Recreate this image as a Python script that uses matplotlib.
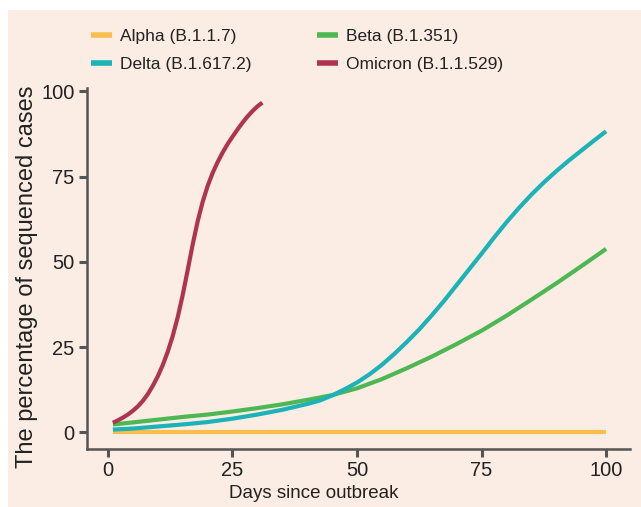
import matplotlib
import matplotlib.pyplot as plt
from matplotlib.patches import Rectangle

matplotlib.use('Agg')

plt.rcParams['font.family'] = ['Liberation Sans', 'DejaVu Sans']

# values
alpha_days = [1, 100]
alpha_pct = [0, 0]

beta_days = [1, 5, 10, 15, 20, 25, 30, 35, 40, 45, 50, 55, 60, 65, 70, 75, 80, 85, 90, 95, 100]
beta_pct = [2.3, 2.9, 3.7, 4.5, 5.2, 6.1, 7.1, 8.2, 9.5, 10.9, 12.9, 15.6, 18.8, 22.2,
            25.9, 29.8, 34.2, 38.9, 43.7, 48.7, 53.8]

delta_days = [1, 5, 10, 15, 20, 25, 30, 35, 40, 42.5, 45, 47.5, 50, 52.5, 55, 57.5, 60,
              62.5, 65, 67.5, 70, 72.5, 75, 77.5, 80, 82.5, 85, 87.5, 90, 92.5, 95, 97.5, 100]
delta_pct = [0.8, 1.1, 1.7, 2.3, 3.0, 4.0, 5.2, 6.6, 8.3, 9.3, 10.8, 12.6, 14.6, 17.0,
             19.8, 23.0, 26.5, 30.2, 34.3, 38.6, 43.2, 47.8, 52.4, 57.1, 61.6, 65.8,
             69.7, 73.3, 76.6, 79.7, 82.6, 85.5, 88.3]

omicron_days = list(range(1, 32))
omicron_pct = [2.8, 3.5, 4.3, 5.2, 6.3, 7.6, 9.2, 11.2, 13.6, 16.4, 19.7, 23.6, 28.2,
               33.7, 40.2, 47.5, 55.0, 61.8, 67.5, 72.2, 76.0, 79.2, 82.0, 84.5, 86.7,
               88.8, 90.8, 92.6, 94.2, 95.6, 96.7]

series = [
    ("Alpha (B.1.1.7)", alpha_days, alpha_pct, "#F9BE4E"),
    ("Beta (B.1.351)", beta_days, beta_pct, "#4DB853"),
    ("Delta (B.1.617.2)", delta_days, delta_pct, "#1BB2B8"),
    ("Omicron (B.1.1.529)", omicron_days, omicron_pct, "#AE3452"),
]

x_ticks = [0, 25, 50, 75, 100]
y_ticks = [0, 25, 50, 75, 100]

bg = "#FBEDE3"
axis_col = "#555555"
text_col = "#222222"

fig = plt.figure(figsize=(6.41, 5.07), dpi=100)
fig.patch.set_facecolor("white")
fig.patches.append(Rectangle((8 / 641, 0), 1, 1 - 10 / 507, transform=fig.transFigure,
                             facecolor=bg, edgecolor="none", zorder=-10))

ax = fig.add_axes([87 / 641, 58 / 507, 543 / 641, 361 / 507])
ax.set_facecolor(bg)

lines = []
for name, xs, ys, col in series:
    ln, = ax.plot(xs, ys, color=col, lw=3, label=name, solid_capstyle="butt")
    lines.append(ln)

ax.set_xlim(-4.2, 104.8)
ax.set_ylim(-4.9, 101)
ax.set_xticks(x_ticks)
ax.set_yticks(y_ticks)

for s in ["top", "right"]:
    ax.spines[s].set_visible(False)
for s in ["left", "bottom"]:
    ax.spines[s].set_color(axis_col)
    ax.spines[s].set_linewidth(1.8)
ax.tick_params(axis="both", colors=axis_col, length=6, width=2.2, labelsize=14.5,
               labelcolor=text_col, pad=3)

ax.set_xlabel("Days since outbreak", fontsize=13.5, color=text_col)
ax.xaxis.set_label_coords(0.418, -0.1)
ax.set_ylabel("The percentage of sequenced cases", fontsize=17, color=text_col)
ax.yaxis.set_label_coords(-0.09, 0.476)

# legend: alpha/beta on row one, delta/omicron on row two
order = [0, 2, 1, 3]
leg = fig.legend([lines[i] for i in order], [series[i][0] for i in order],
                 ncol=2, loc="upper left", bbox_to_anchor=(91 / 641, 1 - 29 / 507),
                 frameon=False, fontsize=12.5, handlelength=1.2, handletextpad=0.46,
                 columnspacing=3.8, labelspacing=0.75, borderaxespad=0, borderpad=0)
for h in leg.legend_handles:
    h.set_linewidth(4)
for t in leg.get_texts():
    t.set_color(text_col)

fig.savefig("out.png", dpi=100, facecolor=fig.get_facecolor())
